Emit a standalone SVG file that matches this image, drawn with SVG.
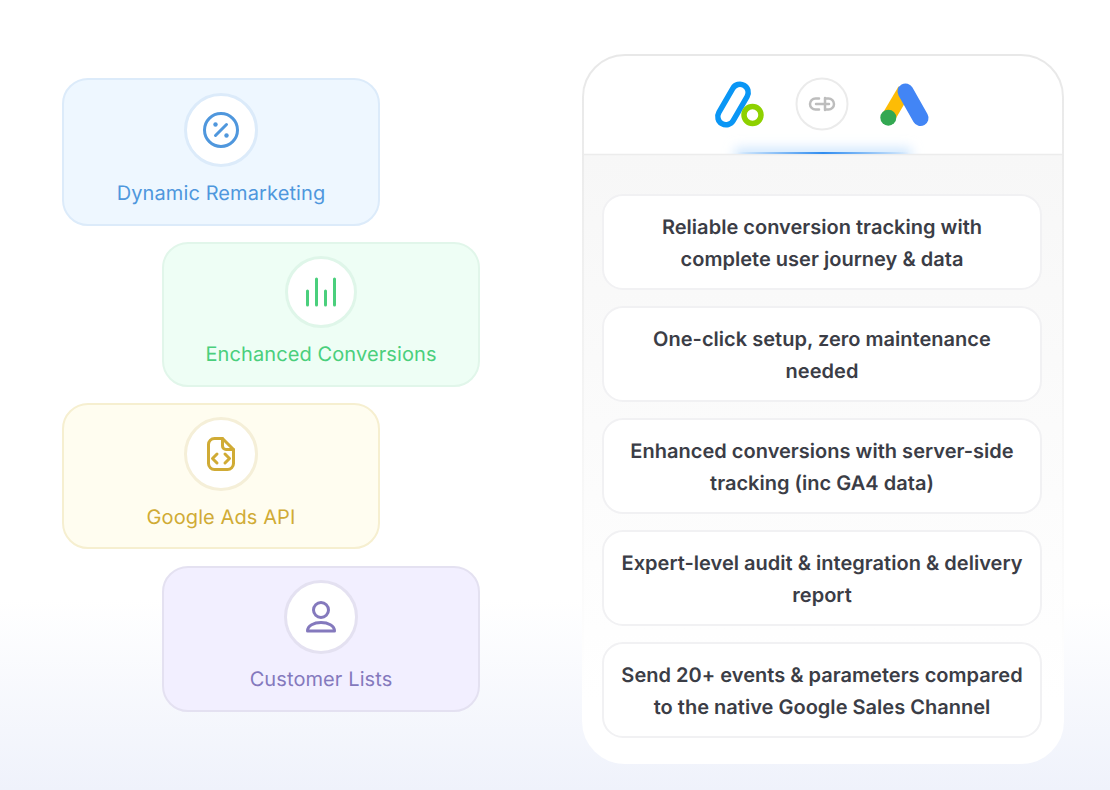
<svg xmlns="http://www.w3.org/2000/svg" width="1110" height="790" viewBox="0 0 1110 790">
<style>
text{text-rendering:geometricPrecision}
.lbl{font-family:Inter,"Noto Sans",sans-serif;font-size:20px;text-anchor:middle;letter-spacing:.1px}
.txt{font-family:Inter,"Noto Sans",sans-serif;font-size:20px;font-weight:600;fill:#3b3d46;text-anchor:middle;letter-spacing:.02px}
.card{fill:#fff;stroke:#f1f1f3;stroke-width:2}
.ic{fill:none;stroke-width:3;stroke-linecap:round;stroke-linejoin:round}
.tile{stroke-width:2}
.disc{fill:#fff;stroke-width:3}
</style>
<defs>
<linearGradient id="bg" x1="0" y1="0" x2="0" y2="1"><stop offset="0" stop-color="#fff"/><stop offset="1" stop-color="#eff2fb"/></linearGradient>
<linearGradient id="panelFill" gradientUnits="userSpaceOnUse" x1="0" y1="154" x2="0" y2="700"><stop offset="0" stop-color="#f7f7f7"/><stop offset="1" stop-color="#ffffff"/></linearGradient>
<linearGradient id="panelStroke" gradientUnits="userSpaceOnUse" x1="0" y1="55" x2="0" y2="700"><stop offset="0" stop-color="#e8e8e8"/><stop offset="1" stop-color="#ffffff"/></linearGradient>
<linearGradient id="beam" x1="0" y1="0" x2="1" y2="0"><stop offset="0" stop-color="#2f8cf0" stop-opacity="0"/><stop offset="0.5" stop-color="#2f8cf0"/><stop offset="1" stop-color="#2f8cf0" stop-opacity="0"/></linearGradient>
<filter id="soft" x="-20%" y="-200%" width="140%" height="500%"><feGaussianBlur stdDeviation="6"/></filter>
<clipPath id="aboveLine"><rect x="700" y="120" width="250" height="34"/></clipPath>
</defs>
<rect width="1110" height="790" fill="#fff"/>
<rect y="600" width="1110" height="190" fill="url(#bg)"/>
<g id="node-dynamic-remarketing">
<rect class="tile" x="63" y="79" width="316" height="146" rx="25" fill="#eef7ff" stroke="#dcebfa"/>
<circle class="disc" cx="221" cy="130" r="35.500" stroke="#dcebfa"/>
<circle class="ic" cx="221" cy="130" r="16.500" stroke="#4f97dd"/>
<path class="ic" d="M215.500 135.500 226.500 124.500" stroke="#4f97dd"/>
<circle cx="215.500" cy="124.500" r="2.200" fill="#4f97dd"/><circle cx="226.500" cy="135.500" r="2.200" fill="#4f97dd"/>
<text class="lbl" x="221" y="200" fill="#4f97dd">Dynamic Remarketing</text>
</g>
<g id="node-enhanced-conversions">
<rect class="tile" x="163" y="243" width="316" height="143" rx="25" fill="#eefef5" stroke="#e1f6ea"/>
<circle class="disc" cx="321" cy="292" r="34.500" stroke="#dff6e9"/>
<path class="ic" d="M307.500 291V305M316.500 279V305M325.500 291V305M334.500 279V305" stroke="#4acf7c"/>
<text class="lbl" x="321" y="361" fill="#4acf7c">Enchanced Conversions</text>
</g>
<g id="node-google-ads-api">
<rect class="tile" x="63" y="404" width="316" height="144" rx="25" fill="#fffdf0" stroke="#f6efd0"/>
<circle class="disc" cx="221" cy="454" r="35.500" stroke="#f5efd8"/>
<path class="ic" d="M214.500 438.500H222.500L233.500 449.500V463.500A6 6 0 0 1 227.500 469.500H214.500A6 6 0 0 1 208.500 463.500V444.500A6 6 0 0 1 214.500 438.500Z" stroke="#d0ab35"/>
<path class="ic" d="M222.500 438.500V446A3.500 3.500 0 0 0 226 449.500H233.500M217 454 212.500 458.500 217 463M225 454 229.500 458.500 225 463" stroke="#d0ab35"/>
<text class="lbl" x="221" y="524" fill="#d0ab35">Google Ads API</text>
</g>
<g id="node-customer-lists">
<rect class="tile" x="163" y="567" width="316" height="144" rx="25" fill="#f2efff" stroke="#e4e1f1"/>
<circle class="disc" cx="321" cy="617" r="35.500" stroke="#e4e1f1"/>
<circle class="ic" cx="321" cy="610" r="7.500" stroke="#8479bd"/>
<path class="ic" d="M307.500 631C307.500 625.500 314 622.500 321 622.500C328 622.500 334.500 625.500 334.500 631Z" stroke="#8479bd"/>
<text class="lbl" x="321" y="686" fill="#8479bd">Customer Lists</text>
</g>
<g id="node-panel">
<rect x="583" y="55" width="480" height="708" rx="42" fill="#fff" stroke="url(#panelStroke)" stroke-width="2"/>
<path d="M584 155H1062V722A41 41 0 0 1 1021 763H625A41 41 0 0 1 584 722Z" fill="url(#panelFill)"/>
<path d="M584 154.500H1062" stroke="#ececec" stroke-width="1.500"/>
<g clip-path="url(#aboveLine)"><rect x="735" y="148" width="176" height="14" fill="#cfe6fd" filter="url(#soft)"/></g>
<rect x="737" y="152" width="172" height="2" fill="url(#beam)"/>
<g id="logo-left">
<rect x="724.750" y="82.350" width="16.500" height="44.300" rx="8.250" transform="rotate(30 733 104.500)" fill="none" stroke="#0a96f5" stroke-width="5.500"/>
<circle cx="752.500" cy="115" r="8.500" fill="#fff" stroke="#8ed100" stroke-width="5.500"/>
</g>
<g id="logo-link">
<circle cx="822" cy="104" r="25.500" fill="#fff" stroke="#ebebeb" stroke-width="2"/>
<path d="M819 98.500H815.500A5.500 5.500 0 0 0 815.500 109.500H819M825 98.500H828.500A5.500 5.500 0 0 1 828.500 109.500H825M825 98V110M816 104H829" fill="none" stroke="#bdbdbd" stroke-width="2.500" stroke-linecap="round"/>
</g>
<g id="logo-ads">
<path d="M888 118 904.500 90" stroke="#fdbc05" stroke-width="14"/>
<path d="M905.500 91.500 920.500 118" stroke="#4285f5" stroke-width="16" stroke-linecap="round"/>
<circle cx="888.300" cy="117.700" r="8" fill="#33a852"/>
</g>
</g>
<g id="card-1"><rect class="card" x="603" y="195" width="438" height="94" rx="20"/><text class="txt"><tspan x="822" y="234">Reliable conversion tracking with</tspan><tspan x="822" y="266">complete user journey &amp; data</tspan></text></g>
<g id="card-2"><rect class="card" x="603" y="307" width="438" height="94" rx="20"/><text class="txt"><tspan x="822" y="346">One-click setup, zero maintenance</tspan><tspan x="822" y="378">needed</tspan></text></g>
<g id="card-3"><rect class="card" x="603" y="419" width="438" height="94" rx="20"/><text class="txt"><tspan x="822" y="458">Enhanced conversions with server-side</tspan><tspan x="822" y="490">tracking (inc GA4 data)</tspan></text></g>
<g id="card-4"><rect class="card" x="603" y="531" width="438" height="94" rx="20"/><text class="txt"><tspan x="822" y="570">Expert-level audit &amp; integration &amp; delivery</tspan><tspan x="822" y="602">report</tspan></text></g>
<g id="card-5"><rect class="card" x="603" y="643" width="438" height="94" rx="20"/><text class="txt"><tspan x="822" y="682">Send 20+ events &amp; parameters compared</tspan><tspan x="822" y="714">to the native Google Sales Channel</tspan></text></g>
</svg>
